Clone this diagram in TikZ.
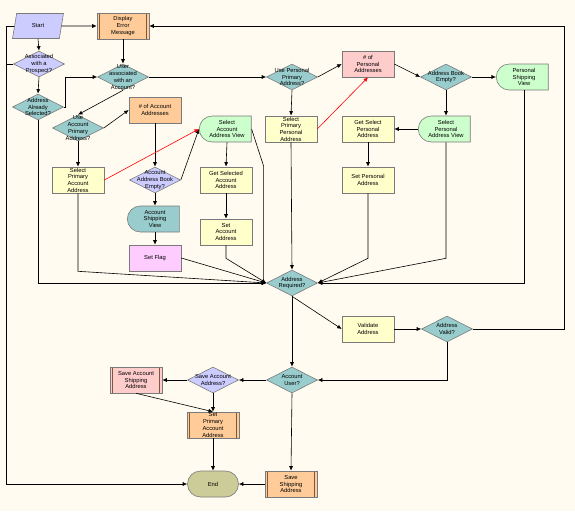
\documentclass[tikz,border=0pt]{standalone}
\usepackage{fontspec}
\setmainfont{Liberation Sans}
\usetikzlibrary{shapes.geometric, shapes.misc, arrows.meta}
\definecolor{paper}{HTML}{FFFBF0}
\definecolor{edge}{HTML}{7A7A7A}
\definecolor{lilac}{HTML}{CCCCFF}
\definecolor{teal2}{HTML}{99CCCC}
\definecolor{peach}{HTML}{FFCC99}
\definecolor{lemon}{HTML}{FFFFCC}
\definecolor{rose}{HTML}{FFCCCC}
\definecolor{orchid}{HTML}{FFCCFF}
\definecolor{mint}{HTML}{CCFFCC}
\definecolor{olive2}{HTML}{CCCC99}
\definecolor{bar}{HTML}{7A5A3A}

\begin{document}
\begin{tikzpicture}[x=1pt, y=-1pt,
  every node/.style={font=\fontsize{5.8}{6.7}\selectfont, align=center, inner sep=0pt},
  box/.style={draw=edge, line width=0.6pt, minimum width=52pt, minimum height=26pt},
  proc/.style={box, fill=lemon},
  subproc/.style={box, path picture={
      \draw[bar, line width=0.6pt] ([xshift=2.5pt]path picture bounding box.north west) -- ([xshift=2.5pt]path picture bounding box.south west);
      \draw[bar, line width=0.6pt] ([xshift=-2.5pt]path picture bounding box.north east) -- ([xshift=-2.5pt]path picture bounding box.south east);}},
  decide/.style={diamond, aspect=2, draw=edge, line width=0.6pt, minimum width=51pt, minimum height=26pt},
  view/.style={rounded rectangle, rounded rectangle right arc=none, draw=edge, line width=0.6pt, minimum width=52pt, minimum height=26pt},
  term/.style={rounded rectangle, draw=edge, line width=0.6pt, fill=olive2, minimum width=51pt, minimum height=26pt},
  io/.style={trapezium, trapezium left angle=74, trapezium right angle=106, trapezium stretches=true, draw=edge, line width=0.6pt, fill=lilac, minimum width=51pt, minimum height=25pt},
  flow/.style={-{Latex[length=4.5pt, width=4pt]}, line width=0.6pt},
]
  \fill[paper] (0,0) rectangle (575,511);
  \useasboundingbox (0,0) rectangle (575,511);

  % start and prospect branch
  \node[io] (start) at (38,26) {Start};
  \node[subproc, fill=peach] (dem) at (123,26) {Display\\Error\\Message};
  \node[decide, fill=lilac, label={center:Associated\\with a\\Prospect?}] (prosp) at (39,64) {};
  \node[decide, fill=teal2, label={center:Address\\Already\\Selected?}] (aas) at (38,107) {};

  % account branch
  \node[decide, fill=teal2, label={center:User\\associated\\with an\\Account?}] (uaa) at (123,77) {};
  \node[decide, fill=teal2, label={center:Use\\Account\\Primary\\Address?}] (uapa) at (78,128) {};
  \node[box, fill=peach] (naa) at (155,110) {\# of Account\\Addresses};
  \node[proc] (spaa) at (78,180) {Select\\Primary\\Account\\Address};
  \node[decide, fill=lilac, label={center:Account\\Address Book\\Empty?}] (aabe) at (155,180) {};
  \node[view, fill=teal2] (asv) at (155,219) {Account\\Shipping\\View};
  \node[box, fill=orchid] (flag) at (155,258) {Set Flag};
  \node[view, fill=mint] (saav) at (227,129) {Select\\Account\\Address View};
  \node[proc] (gsaa) at (226,180) {Get Selected\\Account\\Address};
  \node[proc] (saa) at (226,232) {Set\\Account\\Address};

  % personal branch
  \node[decide, fill=teal2, label={center:Use Personal\\Primary\\Address?}] (uppa) at (292,77) {};
  \node[box, fill=rose] (npa) at (368,64) {\# of\\Personal\\Addresses};
  \node[proc] (sppa) at (291,129) {Select\\Primary\\Personal\\Address};
  \node[proc] (gspa) at (368,129) {Get Select\\Personal\\Address};
  \node[proc] (spa) at (368,180) {Set Personal\\Address};
  \node[decide, fill=teal2, label={center:Address Book\\Empty?}] (abe) at (446,77) {};
  \node[view, fill=mint] (psv) at (524,77) {Personal\\Shipping\\View};
  \node[view, fill=mint] (spav) at (446,129) {Select\\Personal\\Address View};

  % validation and saving
  \node[decide, fill=teal2, label={center:Address\\Required?}] (areq) at (292,283) {};
  \node[proc] (va) at (368,329) {Validate\\Address};
  \node[decide, fill=teal2, label={center:Address\\Valid?}] (aval) at (447,329) {};
  \node[decide, fill=teal2, label={center:Account\\User?}] (auser) at (292,380) {};
  \node[decide, fill=lilac, label={center:Save Account\\Address?}] (sad) at (213,380) {};
  \node[subproc, fill=rose] (sasa) at (136,380) {Save Account\\Shipping\\Address};
  \node[subproc, fill=peach] (spraa) at (213,425) {Set\\Primary\\Account\\Address};
  \node[term] (end) at (213,484) {End};
  \node[subproc, fill=peach] (ssa) at (291,484) {Save\\Shipping\\Address};

  % connectors
  \draw[flow] (start.east) -- (dem.west);
  \draw[flow] (start.south) -- (prosp.north);
  \draw[flow] (prosp.south) -- (aas.north);
  \draw (start.west) -| ([xshift=-7pt]prosp.west) -- (prosp.west);
  \draw[flow] (prosp.west) -- ++(-7,0) |- (end.west);
  \draw[flow] (aas.east) -- ++(1,0) |- (uaa.west);
  \draw[flow] (aas.south) |- (areq.west);
  \draw[flow] (dem.south) -- (uaa.north);
  \draw[flow] (uaa.east) -- (uppa.west);
  \draw[flow] (uaa.south) -- (uapa.north);
  \draw[flow] (uapa.east) -- (naa.west);
  \draw[flow] (uapa.south) -- (spaa.north);
  \draw[flow] (naa.south) -- (aabe.north);
  \draw[flow, red] (spaa.east) -- (saav.west);
  \draw[flow] (aabe.east) -- (saav.west);
  \draw[flow] (aabe.south) -- (asv.north);
  \draw[flow] (asv.south) -- (flag.north);
  \draw[flow] (flag.east) -- (areq.west);
  \draw[flow] (spaa.south) -- ++(0,78) -- (areq.west);
  \draw[flow] (saa.south) -- ++(0,13) -- (areq.west);
  \draw[flow] (saav.east) -- ++(12,37) |- (areq.west);
  \draw[flow] (saav.south) -- (gsaa.north);
  \draw[flow] (gsaa.south) -- (saa.north);
  \draw[flow] (uppa.south) -- (sppa.north);
  \draw[flow] (uppa.east) -- (npa.west);
  \draw[flow, red] (sppa.east) -- (npa.south);
  \draw[flow] (sppa.south) -- (areq.north);
  \draw[flow] (npa.east) -- (abe.west);
  \draw[flow] (abe.east) -- (psv.west);
  \draw[flow] (abe.south) -- (spav.north);
  \draw[flow] (spav.west) -- (gspa.east);
  \draw[flow] (gspa.south) -- (spa.north);
  \draw[flow] (spa.south) -- ++(0,65) -- (areq.east);
  \draw[flow] (spav.south) -- ++(0,116) -- (areq.east);
  \draw[flow] (psv.south) |- (areq.east);
  \draw[flow] (areq.south) -- (auser.north);
  \draw[flow] (areq.south) -- (va.west);
  \draw[flow] (va.east) -- (aval.west);
  \draw[flow] (aval.south) |- (auser.east);
  \draw[flow] (aval.east) -- ++(91,0) |- (dem.east);
  \draw[flow] (auser.west) -- (sad.east);
  \draw[flow] (auser.south) -- (ssa.north);
  \draw[flow] (ssa.west) -- (end.east);
  \draw[flow] (sad.west) -- (sasa.east);
  \draw[flow] (sad.south) -- (spraa.north);
  \draw[flow] (sasa.south) -- (spraa.north);
  \draw[flow] (spraa.south) -- (end.north);
\end{tikzpicture}
\end{document}
